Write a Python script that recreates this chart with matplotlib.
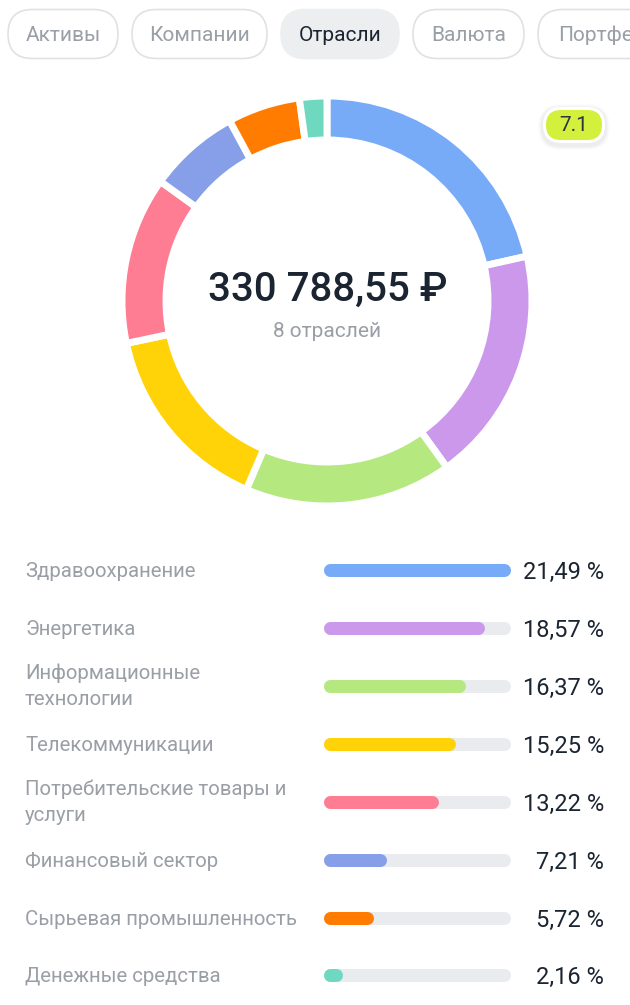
import matplotlib
matplotlib.use("Agg")
from matplotlib import pyplot as plt
from matplotlib.patches import FancyBboxPatch

plt.rcParams['font.family'] = ['Roboto', 'DejaVu Sans']

# данные
sectors = ["Здравоохранение", "Энергетика", "Информационные\nтехнологии", "Телекоммуникации",
           "Потребительские товары и\nуслуги", "Финансовый сектор",
           "Сырьевая промышленность", "Денежные средства"]
shares = [21.49, 18.57, 16.37, 15.25, 13.22, 7.21, 5.72, 2.16]
share_labels = ["21,49 %", "18,57 %", "16,37 %", "15,25 %", "13,22 %", "7,21 %", "5,72 %", "2,16 %"]
colors = ["#77abf8", "#cb98ec", "#b5e87f", "#ffd308", "#ff7d93", "#869fe8", "#ff7c00", "#6fd9c0"]
tabs = ["Активы", "Компании", "Отрасли", "Валюта", "Портфели"]
tab_x = [(8, 118), (132, 267), (281, 399), (413, 524), (538, 670)]
row_y = [570, 628, 686, 744, 802, 860, 918, 975]

W, H = 630, 1005
GREY = "#9a9fa6"
DARK = "#1b2431"

fig = plt.figure(figsize=(W / 100, H / 100), dpi=100)

# общий слой в пикселях
bg = fig.add_axes([0, 0, 1, 1])
bg.set_xlim(0, W)
bg.set_ylim(H, 0)
bg.axis("off")


def pill(x0, y0, x1, y1, **kw):
    box = FancyBboxPatch((x0, y0), x1 - x0, y1 - y0,
                         boxstyle="round,pad=0,rounding_size=%g" % ((y1 - y0) / 2), **kw)
    bg.add_patch(box)


# вкладки
for name, (x0, x1) in zip(tabs, tab_x):
    active = name == "Отрасли"
    pill(x0, 9.5, x1, 58.5, fc="#eceef0" if active else "white",
         ec="#eceef0" if active else "#dfe1e3", lw=1.2)
    tx = 558 if name == "Портфели" else (x0 + x1) / 2
    bg.text(tx, 35.5, name, fontsize=15, color=DARK if active else GREY,
            ha="left" if name == "Портфели" else "center", va="center")

# значок версии
for pad, al in [(5, 0.012), (4, 0.015), (3, 0.02), (2, 0.025)]:
    pill(543 - pad, 107 - pad + 2, 605 + pad, 143 + pad + 2, fc="black", ec="none", alpha=al)
pill(543, 107, 605, 143, fc="white", ec="none")
pill(546, 110, 602, 140, fc="#d3f03c", ec="none")
bg.text(574, 125.5, "7.1", fontsize=15, color="#2b3540", ha="center", va="center")

# кольцо
cx, cy, r = 327, 301, 205
donut = fig.add_axes([(cx - r) / W, 1 - (cy + r) / H, 2 * r / W, 2 * r / H])
donut.pie(shares, colors=colors, startangle=90, counterclock=False, radius=1,
          wedgeprops=dict(width=44 / r, edgecolor="white", linewidth=5))
donut.set_xlim(-1, 1)
donut.set_ylim(-1, 1)
bg.set_zorder(donut.get_zorder() - 1)

# подписи в центре кольца, поверх него
center = fig.add_axes([0, 0, 1, 1], facecolor="none")
center.set_xlim(0, W)
center.set_ylim(H, 0)
center.axis("off")
center.text(328, 290, "330 788,55 ₽", fontsize=29, color=DARK, ha="center", va="center",
            fontweight="medium")
center.text(327.5, 331, "8 отраслей", fontsize=15, color=GREY, ha="center", va="center")

# полоски
bx0, bx1 = 324, 510
bars = fig.add_axes([bx0 / W, 0, (bx1 - bx0) / W, 1], facecolor="none")
bars.set_xlim(0, max(shares))
bars.set_ylim(H, 0)
bars.axis("off")
cap = 6.5 * max(shares) / (bx1 - bx0)
lw = 13 * 72 / 100
for y, v, c in zip(row_y, shares, colors):
    bars.plot([cap, max(shares) - cap], [y, y], color="#e9ebee", lw=lw, solid_capstyle="round", clip_on=False)
    bars.plot([cap, v - cap], [y, y], color=c, lw=lw, solid_capstyle="round", clip_on=False)

# подписи строк
for y, name, lab in zip(row_y, sectors, share_labels):
    ty = y + 0.5 if "\n" in name else y + 1
    bg.text(25, ty, name, fontsize=14.7, color=GREY, ha="left", va="center", linespacing=1.48)
    bg.text(604, y + 2, lab, fontsize=17, color=DARK, ha="right", va="center")

fig.savefig("out.png", dpi=100)
